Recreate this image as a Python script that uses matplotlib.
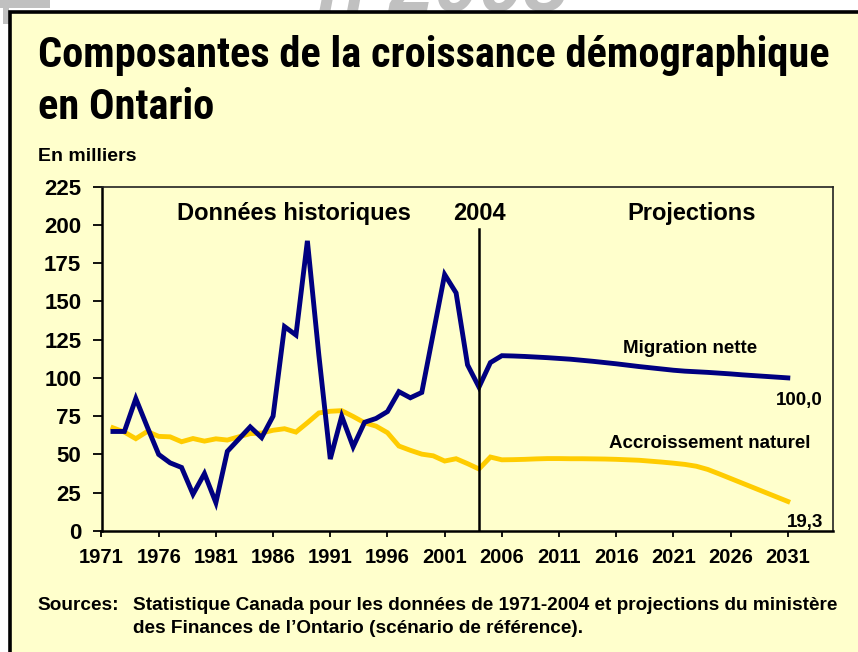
import matplotlib
matplotlib.use("Agg")
import matplotlib.pyplot as plt
from matplotlib.patches import Rectangle
from matplotlib import font_manager
from matplotlib.font_manager import FontProperties

plt.rcParams['font.family'] = ['Liberation Sans', 'DejaVu Sans']

# pick a condensed bold sans for the title (Arial Narrow look)
def find_condensed():
    cands = []
    for f in font_manager.fontManager.ttflist:
        nm = f.name.lower()
        st = str(f.stretch).lower()
        w = f.weight if isinstance(f.weight, int) else 700
        is_cond = ('narrow' in nm or 'condensed' in nm or 'condensed' in st
                   or 'narrow' in f.fname.lower() or 'condensed' in f.fname.lower())
        if not is_cond or 'mono' in nm or 'serif' in nm.replace('sans', ''):
            continue
        if 'italic' in f.fname.lower() or f.style != 'normal':
            continue
        if 'semi' in f.fname.lower() or 'extra' in f.fname.lower() or 'ultra' in f.fname.lower():
            pri_w = 1
        else:
            pri_w = 0
        if w < 600 or w > 800:
            continue
        pri = 0 if 'liberation' in nm else (1 if 'roboto' in nm else (2 if 'noto' in nm or 'open' in nm else 3))
        cands.append((pri, pri_w, f.fname))
    cands.sort()
    return cands[0][2] if cands else None

COND = find_condensed()

# ---------------- data ----------------
hist_years = list(range(1972, 2005))
migration_hist = [65, 65, 86.5, 68, 50, 44.5, 41.5, 24, 37.5, 18.5,
                  52, 60, 68, 61, 75, 133.5, 128, 189.5, 115, 47,
                  75, 55, 71, 73.5, 78, 91, 87, 90.5, 129, 167.5,
                  155.5, 108.5, 94]
natural_hist = [67.4, 64.6, 60.3, 65, 61.8, 61.5, 58.3, 60.4, 58.7, 60.2,
                59.4, 61.5, 63.6, 64, 65.8, 66.8, 64.6, 70.7, 77.1, 78.2,
                78.6, 74.8, 70.7, 68.5, 64.2, 55.5, 52.7, 50.2, 49.1, 45.7,
                47.2, 44.0, 40.5]
proj_years = list(range(2005, 2032))
migration_proj = [110, 114.5, 114.3, 114.0, 113.6, 113.2, 112.7, 112.2, 111.5,
                  110.8, 110.0, 109.2, 108.3, 107.4, 106.6, 105.8, 105.0, 104.4,
                  104.0, 103.6, 103.1, 102.6, 102.0, 101.5, 101.0, 100.5, 100.0]
natural_proj = [48.3, 46.5, 46.6, 46.8, 47.1, 47.3, 47.3, 47.2, 47.2, 47.1,
                47.0, 46.8, 46.5, 46.2, 45.6, 45.0, 44.3, 43.5, 42.3, 40.2,
                37.3, 34.3, 31.3, 28.3, 25.3, 22.3, 19.3]
x_ticks = list(range(1971, 2032, 5))
y_ticks = [0, 25, 50, 75, 100, 125, 150, 175, 200, 225]
split_year = 2004

years = hist_years + proj_years
migration = migration_hist + migration_proj
natural = natural_hist + natural_proj

# ---------------- figure ----------------
W, H = 858, 652
fig = plt.figure(figsize=(W / 100, H / 100), dpi=100)
fig.patch.set_facecolor('white')

def fx(px):
    return px / W

def fy(py):
    return 1 - py / H

BG = '#FFFFCC'

# decorative grey remnants above frame
fig.text(fx(318), fy(11), 'n 2005', fontsize=58, fontweight='bold', fontstyle='italic',
         color='#C0C0C0', ha='left', va='baseline', zorder=0)
fig.patches.append(Rectangle((0, fy(8)), fx(50), 1 - fy(8), transform=fig.transFigure,
                             facecolor='#C0C0C0', edgecolor='none', zorder=0))
fig.patches.append(Rectangle((fx(3), fy(24)), fx(6), fy(8) - fy(24), transform=fig.transFigure,
                             facecolor='#C0C0C0', edgecolor='none', zorder=0))
# frame
fig.patches.append(Rectangle((fx(10), fy(700)), fx(900), fy(12) - fy(700),
                             transform=fig.transFigure, facecolor=BG,
                             edgecolor='black', linewidth=2.6, zorder=1))

# title
if COND:
    tprop = FontProperties(fname=COND, size=30)
else:
    tprop = FontProperties(family=['Liberation Sans', 'DejaVu Sans'], weight='bold', size=25.4)
t1 = fig.text(fx(38), fy(67), 'Composantes de la croissance démographique',
              fontproperties=tprop, ha='left', va='baseline', zorder=5)
t2 = fig.text(fx(38), fy(119), 'en Ontario',
              fontproperties=tprop, ha='left', va='baseline', zorder=5)
fig.canvas.draw()
w1 = t1.get_window_extent().width
if w1 > 0:
    newsize = tprop.get_size() * 791.0 / w1
    newsize = min(newsize, 33)
    t1.set_fontsize(newsize)
    t2.set_fontsize(newsize)

fig.text(fx(38), fy(161), 'En milliers', fontsize=14, fontweight='bold',
         ha='left', va='baseline', zorder=5)

# axes
left, right, bottom, top = 101.5, 833, 531, 186.5
ax = fig.add_axes([fx(left), fy(bottom), fx(right) - fx(left), fy(top) - fy(bottom)])
ax.set_zorder(5)
ax.set_facecolor(BG)
ax.set_xlim(1971, 2034.95)
ax.set_ylim(0, 225)

ax.plot(years, natural, color='#FFCC00', linewidth=3.5, solid_joinstyle='miter', zorder=3)
ax.plot(years, migration, color='#000080', linewidth=3.5, solid_joinstyle='miter', zorder=4)
ax.plot([split_year, split_year], [0, 197], color='black', linewidth=1.8, zorder=5)

ax.set_xticks(x_ticks)
ax.set_xticklabels([str(y) for y in x_ticks])
ax.set_yticks(y_ticks)
ax.set_yticklabels([str(v) for v in y_ticks])
ax.tick_params(axis='y', length=6.5, width=1.3, pad=8, labelsize=16, direction='out')
ax.tick_params(axis='x', length=4.5, width=1.3, pad=8, labelsize=14.5, direction='out')
for lab in ax.get_xticklabels() + ax.get_yticklabels():
    lab.set_fontweight('bold')
for side in ['left', 'bottom']:
    ax.spines[side].set_linewidth(1.8)
    ax.spines[side].set_color('black')
for side in ['top', 'right']:
    ax.spines[side].set_linewidth(1.2)
    ax.spines[side].set_color('#222222')

# annotations (figure pixel positions)
def ann(x, y, s, size, ha='center'):
    fig.text(fx(x), fy(y), s, fontsize=size, fontweight='bold', ha=ha,
             va='baseline', zorder=10)

ann(293.5, 220, 'Données historiques', 17)
ann(479, 220, '2004', 17)
ann(692, 220, 'Projections', 17)
ann(690, 353, 'Migration nette', 13.5)
ann(823, 405, '100,0', 13.5, ha='right')
ann(709.5, 448, 'Accroissement naturel', 13.5)
ann(823, 527, '19,3', 13.5, ha='right')

# sources
ann(37, 610, 'Sources:', 13.7, ha='left')
ann(133, 610, 'Statistique Canada pour les données de 1971-2004 et projections du ministère', 13.7, ha='left')
ann(133, 633, 'des Finances de l\u2019Ontario (scénario de référence).', 13.7, ha='left')

fig.savefig('out.png', dpi=100, facecolor=fig.get_facecolor())
